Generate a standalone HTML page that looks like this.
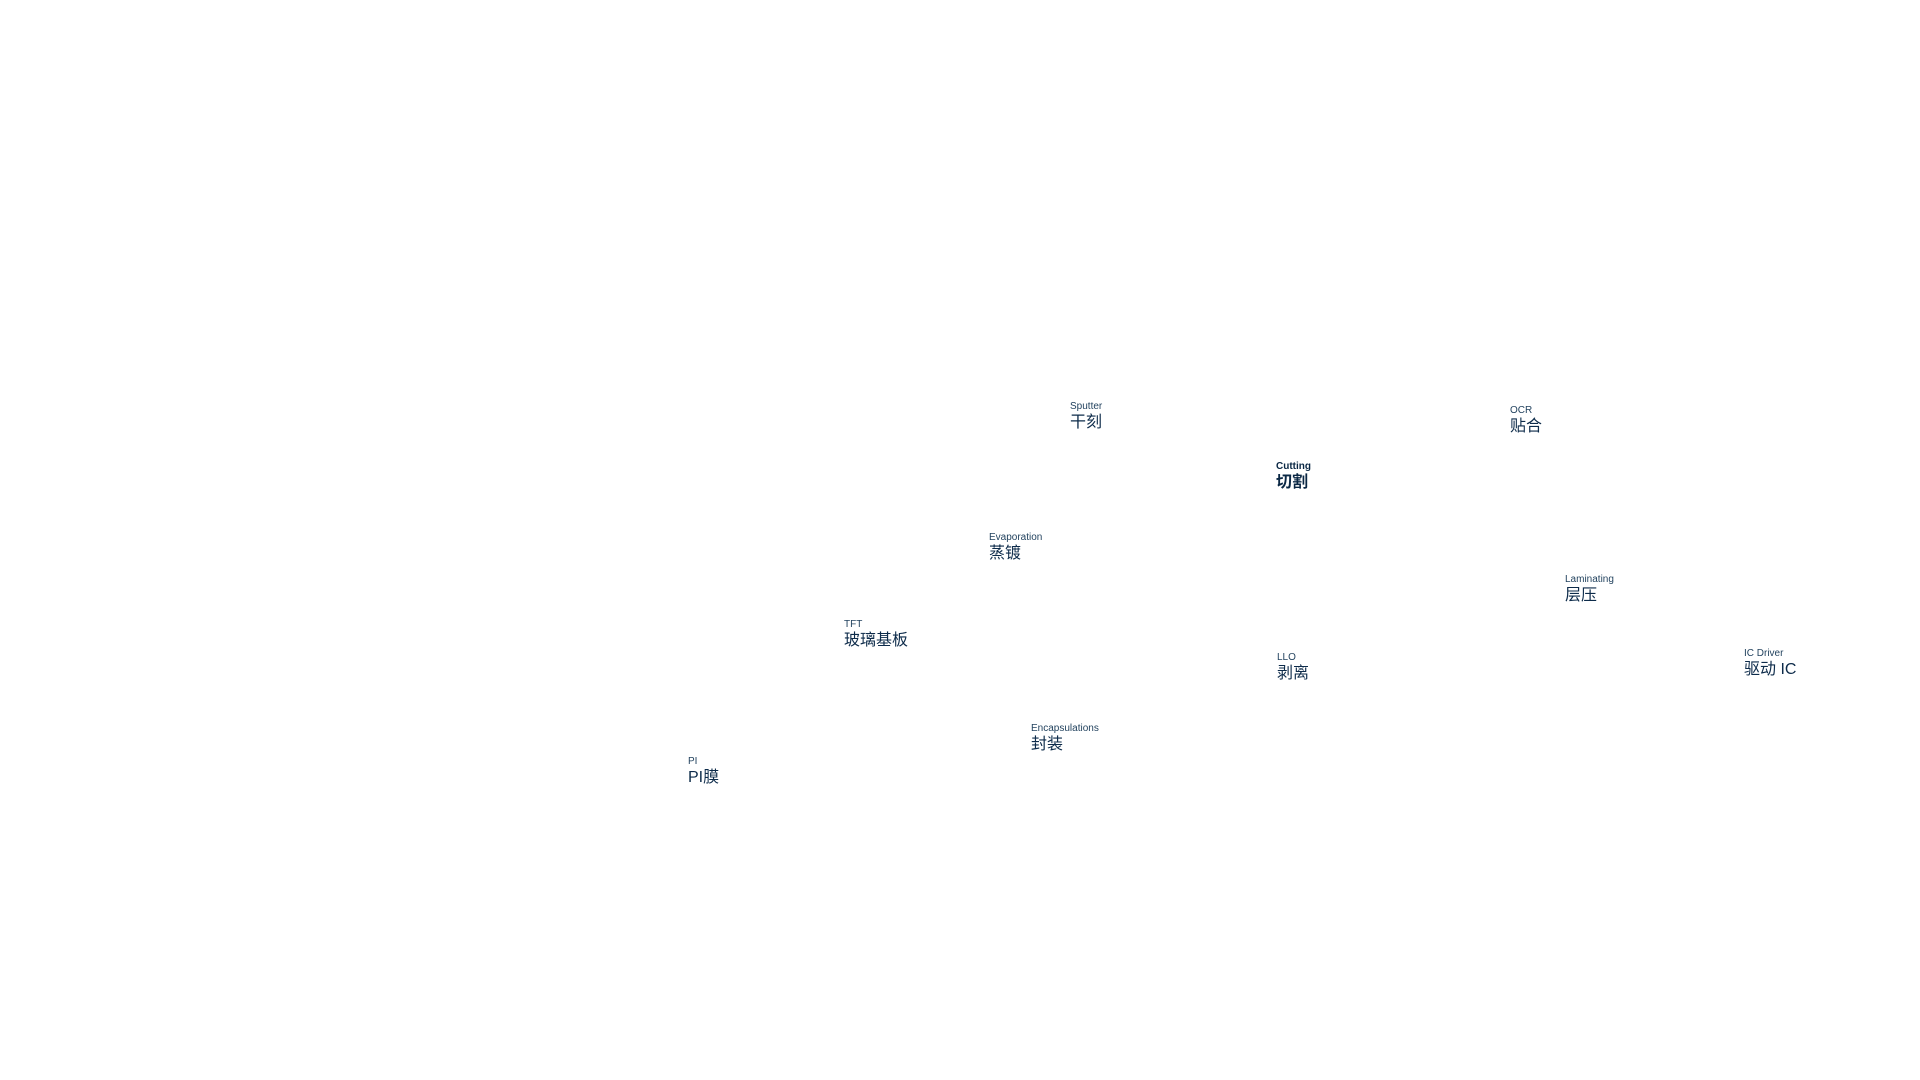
<!DOCTYPE html>
<html><head><meta charset="utf-8"><style>
html,body{margin:0;padding:0;background:#fff;width:1920px;height:1080px;overflow:hidden}
.n{position:absolute;font-family:"Liberation Sans","Noto Sans CJK SC",sans-serif;color:#0d2b4a;white-space:nowrap}
.n .s{font-size:10px;line-height:12px;color:#23435f}
.n .b{font-size:16px;line-height:20px}
.n.bold .s,.n.bold .b{font-weight:bold;color:#0a2744}
</style></head><body>
<div class="n" style="left:1070px;top:401px"><div class="s">Sputter</div><div class="b">干刻</div></div>
<div class="n" style="left:1510px;top:405px"><div class="s">OCR</div><div class="b">贴合</div></div>
<div class="n bold" style="left:1276px;top:461px"><div class="s">Cutting</div><div class="b">切割</div></div>
<div class="n" style="left:989px;top:532px"><div class="s">Evaporation</div><div class="b">蒸镀</div></div>
<div class="n" style="left:1565px;top:574px"><div class="s">Laminating</div><div class="b">层压</div></div>
<div class="n" style="left:844px;top:619px"><div class="s">TFT</div><div class="b">玻璃基板</div></div>
<div class="n" style="left:1277px;top:652px"><div class="s">LLO</div><div class="b">剥离</div></div>
<div class="n" style="left:1744px;top:648px"><div class="s">IC Driver</div><div class="b">驱动 IC</div></div>
<div class="n" style="left:1031px;top:723px"><div class="s">Encapsulations</div><div class="b">封装</div></div>
<div class="n" style="left:688px;top:756px"><div class="s">PI</div><div class="b">PI膜</div></div>
</body></html>
